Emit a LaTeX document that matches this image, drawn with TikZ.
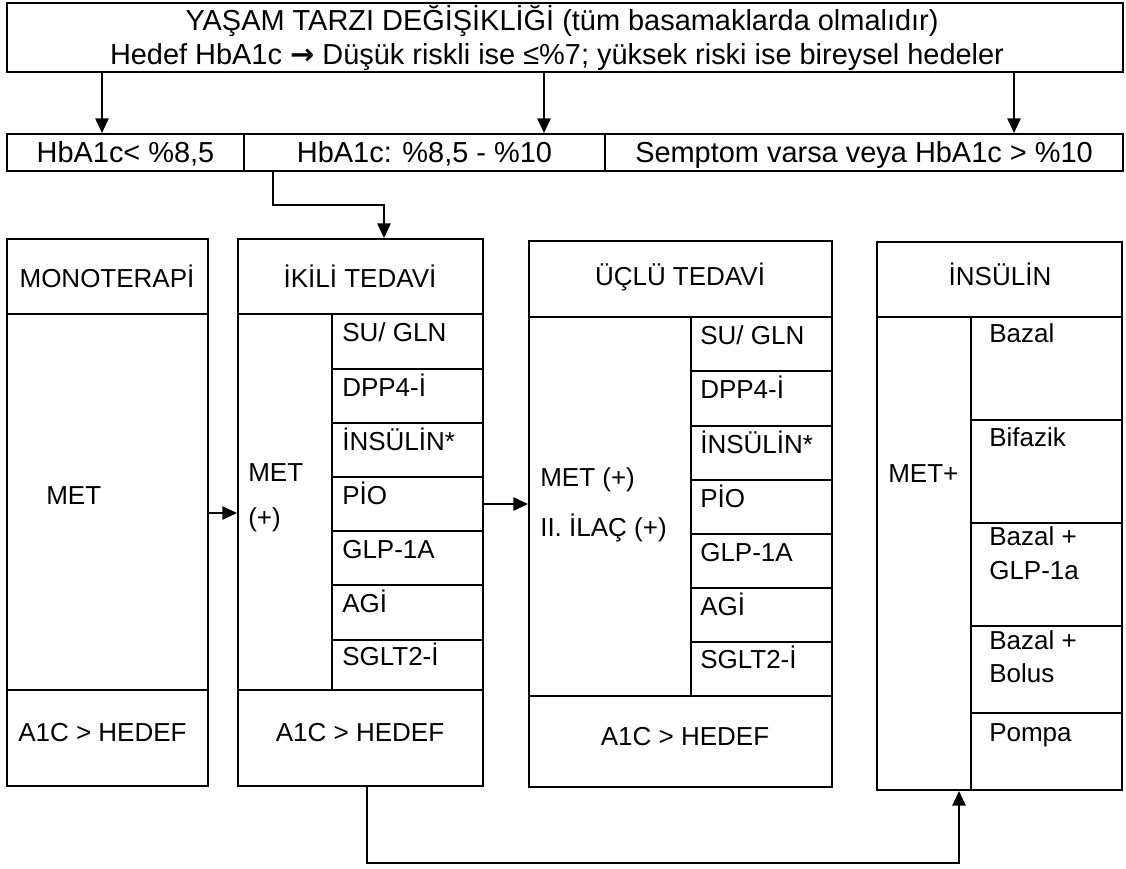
\documentclass[tikz,border=0pt]{standalone}
\usepackage{fontspec}
\setmainfont{Liberation Sans}
\newfontfamily\djv{DejaVu Sans}
\usetikzlibrary{arrows.meta,fit}
\begin{document}
\begin{tikzpicture}[x=0.75pt,y=-0.75pt,
  cell/.style={draw, line width=1.5pt, inner sep=0pt},
  lbl/.style={inner sep=0pt, font=\fontsize{19.5}{23}\selectfont, text height=14pt, text depth=0pt},
  biglbl/.style={inner sep=0pt, font=\fontsize{21.7}{26}\selectfont, text height=15.5pt, text depth=0pt},
  conn/.style={line width=1.2pt, -{Triangle[length=11pt,width=10pt]}}]
\useasboundingbox (0,0) rectangle (1126,868);
% top box
\node[cell, fit={(7,3)(1123,72)}] (top) {};
\node[biglbl] (t1) at (562,20) {YAŞAM TARZI DEĞİŞİKLİĞİ (tüm basamaklarda olmalıdır)};
\node[biglbl] (t2) at (557,54) {Hedef HbA1c {\djv\bfseries →} Düşük riskli ise ≤\%7; yüksek riski ise bireysel hedeler};
% row
\node[cell, fit={(7,134)(244,171)}] (r1) {};
\node[cell, fit={(244,134)(605,171)}] (r2) {};
\node[cell, fit={(605,134)(1123,171)}] (r3) {};
\node[biglbl] (r1t) at (r1.center) {HbA1c< \%8,5};
\node[biglbl] (r2t) at (r2.center) {HbA1c: \%8,5 - \%10};
\node[biglbl] (r3t) at (r3.center) {Semptom varsa veya HbA1c > \%10};
% monoterapi
\node[cell, fit={(7,239)(208,314)}] (mohead) {};
\node[cell, fit={(7,314)(208,690)}] (mobody) {};
\node[cell, fit={(7,690)(208,786)}] (mofoot) {};
\node[lbl] (moheadt) at (107,278) {MONOTERAPİ};
\node[lbl, anchor=west] (mobodyt) at (46,495) {MET};
\node[lbl, anchor=west] (mofoott) at (18,732) {A1C > HEDEF};
% ikili
\node[cell, fit={(238,239)(483,314)}] (ikhead) {};
\node[cell, fit={(238,314)(332,690)}] (ikleft) {};
\node[cell, fit={(332,314)(483,369)}] (iks1) {};
\node[cell, fit={(332,369)(483,423)}] (iks2) {};
\node[cell, fit={(332,423)(483,477)}] (iks3) {};
\node[cell, fit={(332,477)(483,531)}] (iks4) {};
\node[cell, fit={(332,531)(483,585)}] (iks5) {};
\node[cell, fit={(332,585)(483,640)}] (iks6) {};
\node[cell, fit={(332,640)(483,690)}] (iks7) {};
\node[cell, fit={(238,690)(483,786)}] (ikfoot) {};
\node[lbl] (ikheadt) at (360,278) {İKİLİ TEDAVİ};
\node[lbl, anchor=west] (ikl1) at (248,472) {MET};
\node[lbl, anchor=west] (ikl2) at (248,517) {(+)};
\node[lbl, anchor=west] (iks1t) at (342,332) {SU/ GLN};
\node[lbl, anchor=west] (iks2t) at (342,387) {DPP4-İ};
\node[lbl, anchor=west] (iks3t) at (342,441) {İNSÜLİN*};
\node[lbl, anchor=west] (iks4t) at (342,495) {PİO};
\node[lbl, anchor=west] (iks5t) at (342,549) {GLP-1A};
\node[lbl, anchor=west] (iks6t) at (342,603) {AGİ};
\node[lbl, anchor=west] (iks7t) at (342,656) {SGLT2-İ};
\node[lbl] (ikfoott) at (360,732) {A1C > HEDEF};
% uclu
\node[cell, fit={(529,241)(832,317)}] (uchead) {};
\node[cell, fit={(529,317)(691,696)}] (ucleft) {};
\node[cell, fit={(691,317)(832,371)}] (ucs1) {};
\node[cell, fit={(691,371)(832,426)}] (ucs2) {};
\node[cell, fit={(691,426)(832,480)}] (ucs3) {};
\node[cell, fit={(691,480)(832,534)}] (ucs4) {};
\node[cell, fit={(691,534)(832,588)}] (ucs5) {};
\node[cell, fit={(691,588)(832,642)}] (ucs6) {};
\node[cell, fit={(691,642)(832,696)}] (ucs7) {};
\node[cell, fit={(529,696)(832,787)}] (ucfoot) {};
\node[lbl] (ucheadt) at (680,276) {ÜÇLÜ TEDAVİ};
\node[lbl, anchor=west] (ucl1) at (540,477) {MET (+)};
\node[lbl, anchor=west] (ucl2) at (540,527) {II. İLAÇ (+)};
\node[lbl, anchor=west] (ucs1t) at (700,335) {SU/ GLN};
\node[lbl, anchor=west] (ucs2t) at (700,389) {DPP4-İ};
\node[lbl, anchor=west] (ucs3t) at (700,444) {İNSÜLİN*};
\node[lbl, anchor=west] (ucs4t) at (700,498) {PİO};
\node[lbl, anchor=west] (ucs5t) at (700,552) {GLP-1A};
\node[lbl, anchor=west] (ucs6t) at (700,606) {AGİ};
\node[lbl, anchor=west] (ucs7t) at (700,659) {SGLT2-İ};
\node[lbl] (ucfoott) at (685,736) {A1C > HEDEF};
% insulin
\node[cell, fit={(877,242)(1122,317)}] (inhead) {};
\node[cell, fit={(877,317)(971,790)}] (inleft) {};
\node[cell, fit={(971,317)(1122,420)}] (ins1) {};
\node[cell, fit={(971,420)(1122,523)}] (ins2) {};
\node[cell, fit={(971,523)(1122,626)}] (ins3) {};
\node[cell, fit={(971,626)(1122,713)}] (ins4) {};
\node[cell, fit={(971,713)(1122,790)}] (ins5) {};
\node[lbl] (inheadt) at (1000,276) {İNSÜLİN};
\node[lbl, anchor=west] (inl) at (888,473) {MET+};
\node[lbl, anchor=west] (ins1t) at (989,333) {Bazal};
\node[lbl, anchor=west] (ins2t) at (989,437) {Bifazik};
\node[lbl, anchor=west] (ins3a) at (989,536) {Bazal +};
\node[lbl, anchor=west] (ins3b) at (989,570) {GLP-1a};
\node[lbl, anchor=west] (ins4a) at (989,640) {Bazal +};
\node[lbl, anchor=west] (ins4b) at (989,673) {Bolus};
\node[lbl, anchor=west] (ins5t) at (989,732) {Pompa};
% connectors
\coordinate (a1) at (102,0);
\coordinate (a2) at (544,0);
\coordinate (a3) at (1014,0);
\draw[conn] (top.south -| a1) -- (r1.north -| a1);
\draw[conn] (top.south -| a2) -- (r2.north -| a2);
\draw[conn] (top.south -| a3) -- (r3.north -| a3);
\coordinate (k1) at (273,205);
\coordinate (k2) at (384,0);
\draw[conn] (r2.south -| k1) -- (k1) -| (ikhead.north -| k2);
\coordinate (m1) at (0,513);
\coordinate (m2) at (0,504);
\draw[conn] (mobody.east |- m1) -- (ikleft.west |- m1);
\draw[conn] (iks4.east |- m2) -- (ucleft.west |- m2);
\coordinate (b1) at (367,863);
\coordinate (b2) at (959,0);
\draw[conn] (ikfoot.south -| b1) -- (b1) -| (inleft.south -| b2);
\end{tikzpicture}
\end{document}
